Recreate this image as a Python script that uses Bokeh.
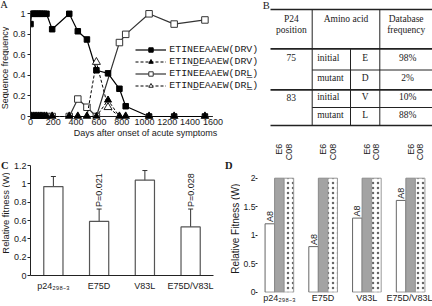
import math
from bokeh.plotting import figure
from bokeh.layouts import row, column
from bokeh.models import (Range1d, FactorRange, FixedTicker, NumeralTickFormatter, Legend,
                          LegendItem, Whisker, TeeHead, ColumnDataSource)
from bokeh.transform import dodge
from bokeh.core.properties import value
from bokeh.embed import file_html
from bokeh.resources import INLINE

# ---------------- data ----------------
# Panel A: sequence frequency vs days after onset
a_days = [0, 10, 25, 40, 55, 70, 85, 100, 120, 140, 190, 340, 415, 495, 578, 680, 780, 835, 1040, 1260, 1530]
a_drv_wt = [0.90, 1.00, 1.00, 1.00, 1.00, 1.00, 1.00, 1.00, 1.00, 1.00, 0.85,
            1.00, 0.83, 0.75, 0.45, 0.42, 0.27, 0.10, 0.00, 0.00, 0.00]
a_drv_mut = [0, 0, 0, 0, 0, 0, 0, 0, 0, 0, 0,
             0, 0, 0, 0, 0.16, 0, 0, 0, 0, 0]
a_drl_days = [0, 10, 25, 40, 55, 70, 85, 100, 120, 140, 190, 340, 415, 495, 578, 780, 835, 1040, 1260, 1530]
a_drl_wt = [0, 0, 0, 0, 0, 0, 0, 0, 0, 0, 0,
            0, 0.17, 0.09, 0.00, 0.72, 0.80, 1.00, 0.90, 0.94]
a_drl_mut = [0, 0, 0, 0, 0, 0, 0, 0, 0, 0, 0,
             0, 0, 0, 0.53, 0.09, 0, 0, 0, 0, 0]
a_labels = ["ETINEEAAEW(DRV)", "ETIND\u0332EAAEW(DRV)",
            "ETINEEAAEW(DRL\u0332)", "ETIND\u0332EAAEW(DRL\u0332)"]
a_xticks = [0, 200, 400, 600, 800, 1000, 1200, 1400, 1600]
a_yticks = [0, 0.2, 0.4, 0.6, 0.8, 1.0]

# Panel B: table
b_head = ["P24\nposition", "Amino acid", "Database\nfrequency"]
b_pos = ["75", "", "83", ""]
b_state = ["initial", "mutant", "initial", "mutant"]
b_res = ["E", "D", "V", "L"]
b_freq = ["98%", "2%", "10%", "88%"]

# Panel C: relative fitness
c_cats = ["p24\u2082\u2089\u2088\u208b\u2083", "E75D", "V83L", "E75D/V83L"]
c_vals = [0.97, 0.59, 1.04, 0.53]
c_lo = [0.85, 0.44, 0.945, 0.335]
c_hi = [1.08, 0.725, 1.145, 0.725]
c_p = ["", "P=0.021", "", "P=0.028"]
c_yticks = [0, 0.2, 0.4, 0.6, 0.8, 1.0, 1.2]

# Panel D: relative fitness per clone
d_series = ["A8", "E6", "C08"]
d_a8 = [1.20, 0.80, 1.30, 1.61]
d_e6 = [2.0, 2.0, 2.0, 2.0]
d_c08 = [2.0, 2.0, 2.0, 2.0]
d_yticks = [0, 0.5, 1.0, 1.5, 2.0]

titles = {"A": "Sequence frequency", "C": "Relative fitness (W)", "D": "Relative Fitness (W)"}
a_xtitle = "Days after onset of acute symptoms"

# ---------------- layout helpers (units: reference pixels) ----------------
SANS, SERIF, MONO = "Liberation Sans", "Liberation Serif", "Liberation Mono"
FS = "9px"
INK = "#1a1a1a"
W_SA, W_A, W_B, H_T = 9, 251, 172, 140
W_SC, W_C, W_SD, W_D, H_B = 10, 205, 25, 192, 166


def rng(v0, p0, v1, p1, lo, hi):
    k = (p1 - p0) / (v1 - v0)
    return v0 + (lo - p0) / k, v0 + (hi - p0) / k


def base_fig(w, h, xr, yr, fl, fr, ft, fb):
    p = figure(width=w, height=h, x_range=xr, y_range=yr, output_backend="svg",
               toolbar_location=None, min_border_left=fl, min_border_right=w - fr,
               min_border_top=ft, min_border_bottom=h - fb, frame_align=False)
    p.grid.visible = False
    p.outline_line_color = None
    return p


def strip_fig(w, h, gx0, gy0):
    p = figure(width=w, height=h, x_range=Range1d(gx0, gx0 + w),
               y_range=Range1d(gy0 + h, gy0), output_backend="svg",
               toolbar_location=None, x_axis_location=None, y_axis_location=None,
               min_border_left=0, min_border_right=0, min_border_top=0, min_border_bottom=0,
               frame_align=False)
    p.grid.visible = False
    p.outline_line_color = None
    return p


def style_axis(ax, tick_out=3, standoff=2, line=True, size=FS):
    ax.axis_line_color = "#222222" if line else None
    ax.major_tick_line_color = "#222222" if tick_out else None
    ax.major_tick_out = tick_out
    ax.major_tick_in = 0
    ax.minor_tick_line_color = None
    ax.major_label_text_font = SANS
    ax.major_label_text_font_size = size
    ax.major_label_text_color = INK
    ax.major_label_standoff = standoff


def put_text(p, x, y, t, size=FS, font=SANS, angle=0.0, bold=False, align="center"):
    p.text([x], [y], [t], angle=angle, text_align=align, text_baseline="middle",
           text_font=value(font), text_font_size=size, text_color=INK,
           text_font_style="bold" if bold else "normal")

# ---------------- Panel A ----------------
A_X0 = W_SA
A_FL, A_FR, A_FT, A_FB = 20, W_A, 8, 118
xr = rng(0, 29 - A_X0, 1600, 212.2 - A_X0, A_FL, A_FR)
yr = rng(0, 116, 1, 13.3, A_FB, A_FT)
pa = base_fig(W_A, H_T, Range1d(*xr), Range1d(*yr), A_FL, A_FR, A_FT, A_FB)
style_axis(pa.yaxis[0], tick_out=3, standoff=2)
style_axis(pa.xaxis[0], tick_out=0, standoff=0, line=False)
pa.yaxis.bounds = (0, 1)
k_ax = (212.2 - 29) / 1600
pa.xaxis.bounds = (0, 2 * (130.8 - 29) / k_ax)
pa.xaxis.ticker = FixedTicker(ticks=a_xticks)
pa.yaxis.ticker = FixedTicker(ticks=a_yticks)
pa.yaxis.formatter = NumeralTickFormatter(format="0.[0]")
pa.xaxis.axis_label = a_xtitle
pa.xaxis.axis_label_standoff = 0
pa.xaxis.axis_label_text_font = SANS
pa.xaxis.axis_label_text_font_size = FS
pa.xaxis.axis_label_text_font_style = "normal"
pa.xaxis.axis_label_text_color = INK
# baseline rule of the x axis at y = 0
pa.segment(x0=[a_xticks[0]], y0=[a_yticks[0]], x1=[a_xticks[-1]], y1=[a_yticks[0]],
           line_color="#222222", line_width=1)

l3 = pa.line(a_drl_days, a_drl_wt, line_color="#333333", line_width=1.2)
m3 = pa.scatter(a_drl_days, a_drl_wt, marker="square", size=6.5, fill_color="white",
                line_color="#333333", line_width=1)
l1 = pa.line(a_days, a_drv_wt, line_color="black", line_width=1.2)
m1 = pa.scatter(a_days, a_drv_wt, marker="square", size=5.5, fill_color="black", line_color="black")
l4 = pa.line(a_days, a_drl_mut, line_color="black", line_width=1, line_dash="3 2")
m4 = pa.scatter(a_days, a_drl_mut, marker="triangle", size=8, fill_color="white",
                line_color="#222222", line_width=1)
l2 = pa.line(a_days, a_drv_mut, line_color="black", line_width=1, line_dash="3 2")
m2 = pa.scatter(a_days, a_drv_mut, marker="triangle", size=7, fill_color="black", line_color="black")

items = [LegendItem(label=value(a_labels[0]), renderers=[l1, m1]),
         LegendItem(label=value(a_labels[1]), renderers=[l2, m2]),
         LegendItem(label=value(a_labels[2]), renderers=[l3, m3]),
         LegendItem(label=value(a_labels[3]), renderers=[l4, m4])]
leg_top = 43.8
leg_h = 4 * 11 + 3
leg = Legend(items=items, location=(134.3 - A_X0 - A_FL, A_FB - (leg_top + leg_h)),
             glyph_width=31, glyph_height=11, label_height=11, spacing=1, padding=0,
             margin=0, label_standoff=3, border_line_color=None, background_fill_alpha=0,
             label_text_font=MONO, label_text_font_size="9.9px", label_text_color=INK)
pa.add_layout(leg, "center")

sa = strip_fig(W_SA, H_T, 0, 0)
put_text(sa, 3.6, 4.0, "A", size="10.5px", font=SERIF)
put_text(sa, 4.6, 67.5, titles["A"], angle=math.pi / 2)

# ---------------- Panel B (table) ----------------
pb = strip_fig(W_B, H_T, W_SA + W_A, 0)
cols = [270, 311.7, 350, 379.3, 432]
rows = [9, 48.3, 69.5, 89.3, 107, 125]
thick_y = [rows[0], rows[1], rows[3], rows[5]]
pb.segment(x0=[cols[0]] * 4, x1=[cols[4]] * 4, y0=thick_y, y1=thick_y,
           line_color="#222222", line_width=1.7)
thin_y = [rows[2], rows[4]]
pb.segment(x0=[cols[1]] * 2, x1=[cols[4]] * 2, y0=thin_y, y1=thin_y,
           line_color="#222222", line_width=1)
pb.segment(x0=[cols[1], cols[3], cols[2]], x1=[cols[1], cols[3], cols[2]],
           y0=[rows[0], rows[0], rows[1]], y1=[rows[5], rows[5], rows[5]],
           line_color="#222222", line_width=1)
tfont = dict(text_font=value(SERIF), text_font_size="9.5px", text_color=INK, text_baseline="middle")
c1 = (cols[0] + cols[1]) / 2
c23 = (cols[1] + cols[3]) / 2
c4 = (cols[3] + cols[4]) / 2
hx, hy, ht = [], [], []
for cx, h in zip([c1, c23, c4], b_head):
    for i, line in enumerate(h.split("\n")):
        hx.append(cx)
        hy.append(rows[0] + 9.3 + 11 * i)
        ht.append(line)
pb.text(hx, hy, ht, text_align="center", **tfont)
rc = [(rows[i + 1] + rows[i + 2]) / 2 - 1.5 for i in range(4)]
pb.text([c1] * 4, rc, b_pos, text_align="center", **tfont)
pb.text([cols[1] + 5] * 4, rc, b_state, text_align="left", **tfont)
pb.text([(cols[2] + cols[3]) / 2] * 4, rc, b_res, text_align="center", **tfont)
pb.text([c4 + 1.5] * 4, rc, b_freq, text_align="center", **tfont)
put_text(pb, 265.8, 5, "B", size="10.5px", font=SERIF)

# ---------------- Panel C ----------------
C_X0 = W_SC
C_FL, C_FR, C_FT, C_FB = 26 - C_X0, 213 - C_X0, 25, 135
pc = base_fig(W_C, H_B, FactorRange(*c_cats, range_padding=0), Range1d(c_yticks[0], c_yticks[-1]),
              C_FL, C_FR, C_FT, C_FB)
style_axis(pc.yaxis[0], tick_out=3, standoff=1)
style_axis(pc.xaxis[0], tick_out=0, standoff=5)
pc.yaxis.ticker = FixedTicker(ticks=c_yticks)
pc.yaxis.formatter = NumeralTickFormatter(format="0.[0]")
pc.vbar(x=c_cats, top=c_vals, width=0.42, fill_color="white", line_color="#555555", line_width=1.2)
wsrc = ColumnDataSource(dict(base=c_cats, lower=c_lo, upper=c_hi))
pc.add_layout(Whisker(base="base", lower="lower", upper="upper", source=wsrc,
                      line_color="#333333", line_width=1,
                      upper_head=TeeHead(size=5, line_color="#333333", line_width=1),
                      lower_head=TeeHead(size=5, line_color="#333333", line_width=1)))
pidx = [i for i, t in enumerate(c_p) if t]
pc.text([c_cats[i] for i in pidx], [c_hi[i] + 0.022 for i in pidx], [c_p[i] for i in pidx],
        angle=math.pi / 2, text_align="left", text_baseline="middle", text_font=value(SANS),
        text_font_size=FS, text_color=INK)

sc = strip_fig(W_SC, H_B, 0, H_T)
put_text(sc, 4.2, 165, "C", size="10.5px", font=SERIF, bold=True)
put_text(sc, 5.0, 212.5, titles["C"], size="9.4px", angle=math.pi / 2)

# ---------------- Panel D ----------------
D_X0 = W_SC + W_C + W_SD
D_FL, D_FR, D_FT, D_FB = 14, W_D, 2, 152
yr = rng(0, 291.7 - H_T, 2, 177.7 - H_T, D_FB, D_FT)
pdd = base_fig(W_D, H_B, FactorRange(*c_cats, range_padding=0), Range1d(*yr), D_FL, D_FR, D_FT, D_FB)
style_axis(pdd.yaxis[0], tick_out=2, standoff=0, line=False, size="8.6px")
style_axis(pdd.xaxis[0], tick_out=0, standoff=0, line=False)
pdd.yaxis.ticker = FixedTicker(ticks=d_yticks)
pdd.yaxis.formatter = NumeralTickFormatter(format="0.[0]")
dsrc = ColumnDataSource(dict(cat=c_cats, A8=d_a8, E6=d_e6, C08=d_c08))
BW = 0.218
pdd.vbar(x=dodge("cat", -BW, range=pdd.x_range), top="A8", width=BW, source=dsrc,
         fill_color="white", line_color="#666666", line_width=1)
pdd.vbar(x=dodge("cat", 0, range=pdd.x_range), top="E6", width=BW, source=dsrc,
         fill_color="#a3a3a3", line_color="#8a8a8a", line_width=1)
pdd.vbar(x=dodge("cat", BW, range=pdd.x_range), top="C08", width=BW, source=dsrc,
         fill_color="white", line_color="#999999", line_width=1,
         hatch_pattern="dot", hatch_color="#666666", hatch_scale=5, hatch_weight=0.5)
k_d = ((291.7 - H_T) - (177.7 - H_T)) / 2
top_val = ((291.7 - H_T) - (143.3 - H_T)) / k_d
lsrc = ColumnDataSource(dict(cat=c_cats, ya=[v + 0.03 for v in d_a8], yt=[top_val] * 4,
                             ta=[d_series[0]] * 4, te=[d_series[1]] * 4, tc=[d_series[2]] * 4))
lab = dict(angle=math.pi / 2, text_baseline="middle", text_font=value(SANS),
           text_font_size=FS, text_color=INK, source=lsrc)
pdd.text(x=dodge("cat", -BW, range=pdd.x_range), y="ya", text="ta", text_align="left", **lab)
pdd.text(x=dodge("cat", 0, range=pdd.x_range), y="yt", text="te", text_align="right", **lab)
pdd.text(x=dodge("cat", BW, range=pdd.x_range), y="yt", text="tc", text_align="right", **lab)

sd = strip_fig(W_SD, H_B, W_SC + W_C, H_T)
put_text(sd, 228.3, 165, "D", size="10.5px", font=SERIF, bold=True)
put_text(sd, 234.6, 228.3, titles["D"], size="10px", angle=math.pi / 2)

layout = column(row(sa, pa, pb), row(sc, pc, sd, pdd))
open("out.html", "w").write(file_html(layout, INLINE))
